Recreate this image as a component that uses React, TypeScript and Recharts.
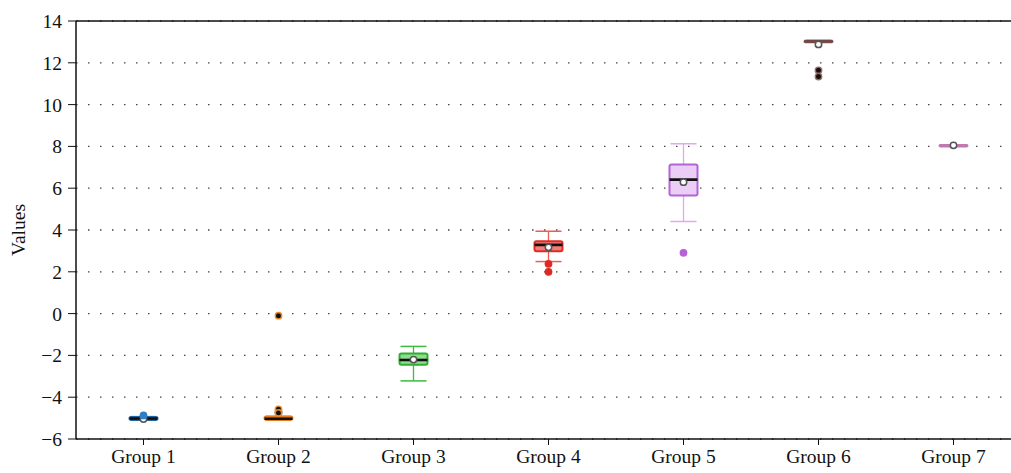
import React from "react";
import {
  ComposedChart,
  Bar,
  XAxis,
  YAxis,
  CartesianGrid,
  ReferenceLine,
} from "recharts";

const groups = ["Group 1", "Group 2", "Group 3", "Group 4", "Group 5", "Group 6", "Group 7"];
const whiskerLow = [-5.1, -5.1, -3.22, 2.49, 4.41, 13.02, 8.03];
const q1 = [-5.08, -5.08, -2.45, 2.98, 5.65, 13.02, 8.03];
const median = [-5.02, -5.03, -2.22, 3.29, 6.41, 13.04, 8.05];
const q3 = [-4.95, -4.92, -1.91, 3.46, 7.13, 13.06, 8.07];
const whiskerHigh = [-4.93, -4.92, -1.57, 3.94, 8.13, 13.06, 8.07];
const means = [-5.04, -4.72, -2.2, 3.17, 6.29, 12.88, 8.05];
const outliers = [[-4.87], [-4.58, -4.75, -0.1], [], [2.38, 2.0], [2.91], [11.64, 11.34], []];
const yTicks = [-6, -4, -2, 0, 2, 4, 6, 8, 10, 12, 14];
const yDomain: [number, number] = [-6, 14];

const edgeColors = ["#23649f", "#e8791a", "#2fae2f", "#e02b26", "#b464d6", "#7a4f4c", "#c879b6"];
const fillColors = ["#4b8fd0", "#f5a057", "#8fdc8f", "#f27c78", "#ebcdf5", "#a9807c", "#e3a6d6"];
const whiskerColors = ["#23649f", "#e8791a", "#3cbd3c", "#ee5a55", "#dcaaee", "#7a4f4c", "#c879b6"];
const medianColors = ["#111111", "#111111", "#111111", "#111111", "#111111", "#6e4a47", "#c07ab0"];
const outlierFill = ["#2f7fc6", "#111111", "#2fae2f", "#de2a24", "#b862d8", "#111111", "#c879b6"];
const outlierStroke = ["#2f7fc6", "#f08a2a", "#2fae2f", "#de2a24", "#b862d8", "#a06a62", "#c879b6"];

const data = groups.map((name, i) => ({
  name,
  span: yDomain,
  lo: whiskerLow[i],
  q1: q1[i],
  med: median[i],
  q3: q3[i],
  hi: whiskerHigh[i],
  mean: means[i],
  out: outliers[i],
  idx: i,
}));

const font = "'Liberation Serif', 'Times New Roman', serif";

function BoxShape(props: any) {
  const { x, y, width, height, payload } = props;
  const [lo, hi] = payload.span;
  const k = height / (hi - lo);
  const py = (v: number) => y + (hi - v) * k;
  const cx = x + width / 2;
  const i = payload.idx;
  const bw = 14;
  const cw = 13;
  const boxTop = py(payload.q3);
  const boxBot = py(payload.q1);
  return (
    <g>
      <line x1={cx} x2={cx} y1={py(payload.hi)} y2={boxTop} stroke={whiskerColors[i]} strokeWidth={1.3} />
      <line x1={cx} x2={cx} y1={boxBot} y2={py(payload.lo)} stroke={whiskerColors[i]} strokeWidth={1.3} />
      <line x1={cx - cw} x2={cx + cw} y1={py(payload.hi)} y2={py(payload.hi)} stroke={whiskerColors[i]} strokeWidth={1.5} />
      <line x1={cx - cw} x2={cx + cw} y1={py(payload.lo)} y2={py(payload.lo)} stroke={whiskerColors[i]} strokeWidth={1.5} />
      <rect
        x={cx - bw}
        y={boxTop}
        width={bw * 2}
        height={Math.max(boxBot - boxTop, 1.5)}
        rx={2}
        fill={fillColors[i]}
        stroke={edgeColors[i]}
        strokeWidth={2}
      />
      <line x1={cx - bw} x2={cx + bw} y1={py(payload.med)} y2={py(payload.med)} stroke={medianColors[i]} strokeWidth={2.6} />
      <circle cx={cx} cy={py(payload.mean)} r={3.2} fill="#fff" stroke="#555" strokeWidth={1.5} />
      {payload.out.map((v: number, j: number) => (
        <circle key={j} cx={cx} cy={py(v)} r={3.2} fill={outlierFill[i]} stroke={outlierStroke[i]} strokeWidth={1.4} />
      ))}
    </g>
  );
}

const minus = (v: number) => String(v).replace("-", "\u2212");

export default function App() {
  return (
    <div
      style={{
        position: "fixed",
        left: 0,
        top: 0,
        width: 1011,
        height: 473,
        overflow: "hidden",
        background: "#fff",
      }}
    >
      <ComposedChart
        width={1021}
        height={473}
        data={data}
        margin={{ top: 21, right: 0, left: 0, bottom: 0 }}
      >
        <CartesianGrid vertical={false} stroke="#444" strokeDasharray="1.5 10.5" strokeWidth={1.3} />
        <XAxis
          dataKey="name"
          height={34}
          tickSize={6}
          tickMargin={4}
          axisLine={{ stroke: "#111", strokeWidth: 1.5 }}
          tickLine={{ stroke: "#111" }}
          tick={{ fill: "#111", fontSize: 19.5, fontFamily: font }}
          interval={0}
        />
        <YAxis
          type="number"
          domain={yDomain}
          ticks={yTicks}
          allowDataOverflow
          width={76}
          tickSize={8}
          tickMargin={6}
          tickFormatter={minus}
          axisLine={{ stroke: "#111", strokeWidth: 1.5 }}
          tickLine={{ stroke: "#111" }}
          tick={{ fill: "#111", fontSize: 19.5, fontFamily: font }}
          label={{
            value: "Values",
            angle: -90,
            position: "insideLeft",
            offset: 18,
            style: { textAnchor: "middle", fill: "#111", fontSize: 19.5, fontFamily: font },
          }}
        />
        <ReferenceLine y={14} stroke="#111" strokeWidth={1.5} />
        <Bar dataKey="span" shape={<BoxShape />} isAnimationActive={false} />
      </ComposedChart>
    </div>
  );
}
